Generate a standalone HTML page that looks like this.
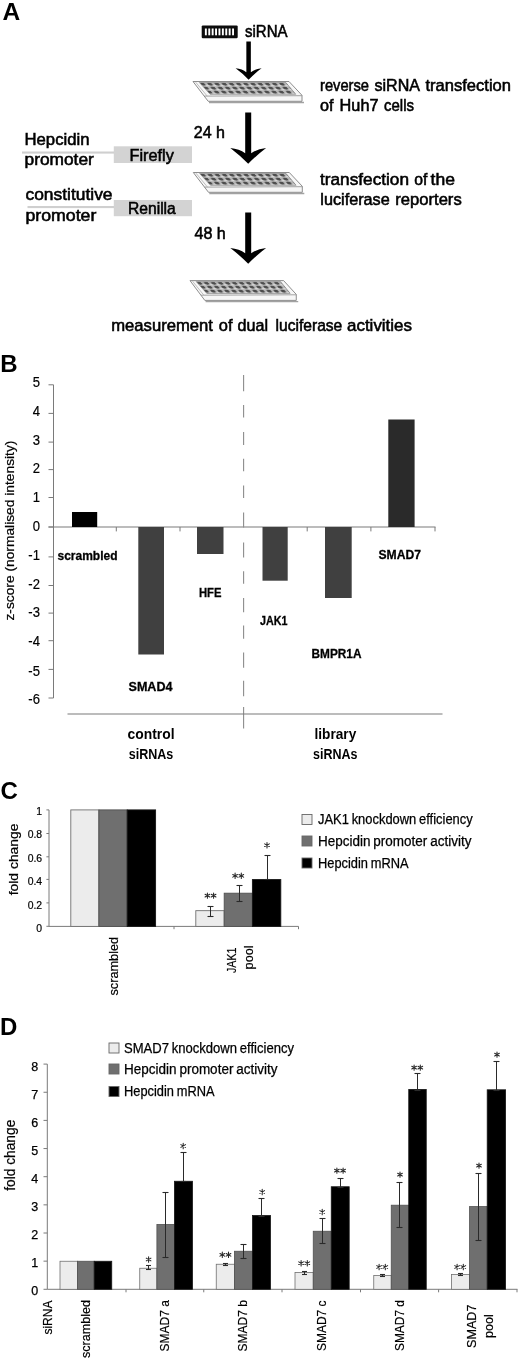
<!DOCTYPE html>
<html><head><meta charset="utf-8"><title>Figure</title>
<style>
html,body{margin:0;padding:0;background:#fff;}
body{width:520px;height:1360px;overflow:hidden;font-family:"Liberation Sans", sans-serif;}
svg{display:block;will-change:transform;filter:grayscale(1);}
svg text{font-family:"Liberation Sans", sans-serif;fill:#000;}
</style></head><body>
<svg width="520" height="1360" viewBox="0 0 520 1360">
<defs>
<pattern id="wells" x="5.2" y="1" width="7.2" height="3.93" patternUnits="userSpaceOnUse" patternTransform="skewX(40)">
<rect width="7.2" height="3.93" fill="#b4b4b4"/>
<ellipse cx="2.4" cy="1.7" rx="2.4" ry="1.35" fill="#4d4d4d"/>
<ellipse cx="6.1" cy="3.1" rx="1.5" ry="0.8" fill="#d6d6d6"/>
</pattern>
</defs>
<rect width="520" height="1360" fill="#fff"/>
<!-- Panel A -->
<text x="2.4" y="20" font-size="24.5" font-weight="bold">A</text>
<rect x="201.7" y="25.4" width="36" height="12.8" rx="1.2" fill="#0c0c0c"/>
<rect x="204.9" y="28.5" width="1.9" height="6.8" fill="#fff"/>
<rect x="208.3" y="28.5" width="1.9" height="6.8" fill="#fff"/>
<rect x="211.7" y="28.5" width="1.9" height="6.8" fill="#fff"/>
<rect x="215.1" y="28.5" width="1.9" height="6.8" fill="#fff"/>
<rect x="218.5" y="28.5" width="1.9" height="6.8" fill="#fff"/>
<rect x="221.9" y="28.5" width="1.9" height="6.8" fill="#fff"/>
<rect x="225.3" y="28.5" width="1.9" height="6.8" fill="#fff"/>
<rect x="228.7" y="28.5" width="1.9" height="6.8" fill="#fff"/>
<rect x="232.1" y="28.5" width="1.9" height="6.8" fill="#fff"/>
<text x="245" y="36.8" font-size="16.2" textLength="42.5" lengthAdjust="spacingAndGlyphs" stroke="#000" stroke-width="0.55">siRNA</text>
<path d="M246.35,41.4 L250.85,41.4 L250.85,72.2 Q254.97,68.96 261.6,68.3 Q254.5,73.45 248.6,79.8 Q242.7,73.45 235.6,68.3 Q242.23,68.96 246.35,72.2 Z" fill="#000"/>
<path d="M245.2,112.5 L251.2,112.5 L251.2,153.3 Q256.97,148.9 266.09999999999997,148 Q256.55,155.3 248.2,163.8 Q239.85,155.3 230.29999999999998,148 Q239.43,148.9 245.2,153.3 Z" fill="#000"/>
<path d="M245.2,212.5 L251.2,212.5 L251.2,253.3 Q256.97,248.9 266.09999999999997,248 Q256.55,255.3 248.2,263.8 Q239.85,255.3 230.29999999999998,248 Q239.43,248.9 245.2,253.3 Z" fill="#000"/>
<g transform="translate(193,81.5) scale(1,1)"><path d="M16,21 L111,21" stroke="#a2a2a2" stroke-width="1.3" fill="none"/><path d="M0,0 L96,0 L109,13.8 L109,19.8 L15.2,19.8 Z" fill="#f7f7f7" stroke="#808080" stroke-width="0.9" stroke-linejoin="round"/><path d="M11.2,14.6 L109,14.2" stroke="#8c8c8c" stroke-width="0.8" fill="none"/><path d="M2.6,0.6 L14.2,14.6" stroke="#a8a8a8" stroke-width="0.7" fill="none"/><path d="M6.3,1 L92.8,1 L102.8,12.8 L17.2,12.8 Z" fill="url(#wells)" stroke="#6a6a6a" stroke-width="0.5"/></g>
<g transform="translate(193.3,172.5) scale(1,1)"><path d="M16,21 L111,21" stroke="#a2a2a2" stroke-width="1.3" fill="none"/><path d="M0,0 L96,0 L109,13.8 L109,19.8 L15.2,19.8 Z" fill="#f7f7f7" stroke="#808080" stroke-width="0.9" stroke-linejoin="round"/><path d="M11.2,14.6 L109,14.2" stroke="#8c8c8c" stroke-width="0.8" fill="none"/><path d="M2.6,0.6 L14.2,14.6" stroke="#a8a8a8" stroke-width="0.7" fill="none"/><path d="M6.3,1 L92.8,1 L102.8,12.8 L17.2,12.8 Z" fill="url(#wells)" stroke="#6a6a6a" stroke-width="0.5"/></g>
<g transform="translate(190,280.6) scale(0.975,1)"><path d="M16,21 L111,21" stroke="#a2a2a2" stroke-width="1.3" fill="none"/><path d="M0,0 L96,0 L109,13.8 L109,19.8 L15.2,19.8 Z" fill="#f7f7f7" stroke="#808080" stroke-width="0.9" stroke-linejoin="round"/><path d="M11.2,14.6 L109,14.2" stroke="#8c8c8c" stroke-width="0.8" fill="none"/><path d="M2.6,0.6 L14.2,14.6" stroke="#a8a8a8" stroke-width="0.7" fill="none"/><path d="M6.3,1 L92.8,1 L102.8,12.8 L17.2,12.8 Z" fill="url(#wells)" stroke="#6a6a6a" stroke-width="0.5"/></g>
<text x="320" y="90.6" font-size="16.2" textLength="49" lengthAdjust="spacingAndGlyphs" stroke="#000" stroke-width="0.55">reverse</text>
<text x="374.5" y="90.6" font-size="16.2" textLength="45.5" lengthAdjust="spacingAndGlyphs" stroke="#000" stroke-width="0.55">siRNA</text>
<text x="425.5" y="90.6" font-size="16.2" textLength="85.5" lengthAdjust="spacingAndGlyphs" stroke="#000" stroke-width="0.55">transfection</text>
<text x="320" y="111.3" font-size="16.2" textLength="13.5" lengthAdjust="spacingAndGlyphs" stroke="#000" stroke-width="0.55">of</text>
<text x="339.6" y="111.3" font-size="16.2" textLength="38.9" lengthAdjust="spacingAndGlyphs" stroke="#000" stroke-width="0.55">Huh7</text>
<text x="384" y="111.3" font-size="16.2" textLength="30" lengthAdjust="spacingAndGlyphs" stroke="#000" stroke-width="0.55">cells</text>
<text x="193.8" y="137.5" font-size="16.2" textLength="31.2" lengthAdjust="spacingAndGlyphs" stroke="#000" stroke-width="0.55">24 h</text>
<text x="320" y="184.9" font-size="16.2" textLength="89" lengthAdjust="spacingAndGlyphs" stroke="#000" stroke-width="0.55">transfection</text>
<text x="414.2" y="184.9" font-size="16.2" textLength="13.1" lengthAdjust="spacingAndGlyphs" stroke="#000" stroke-width="0.55">of</text>
<text x="430.6" y="184.9" font-size="16.2" textLength="24.4" lengthAdjust="spacingAndGlyphs" stroke="#000" stroke-width="0.55">the</text>
<text x="320.3" y="205.4" font-size="16.2" textLength="69.4" lengthAdjust="spacingAndGlyphs" stroke="#000" stroke-width="0.55">luciferase</text>
<text x="395.3" y="205.4" font-size="16.2" textLength="66.4" lengthAdjust="spacingAndGlyphs" stroke="#000" stroke-width="0.55">reporters</text>
<text x="194.5" y="238.8" font-size="16.2" textLength="31.3" lengthAdjust="spacingAndGlyphs" stroke="#000" stroke-width="0.55">48 h</text>
<text x="111.2" y="331" font-size="16.2" textLength="101.8" lengthAdjust="spacingAndGlyphs" stroke="#000" stroke-width="0.55">measurement</text>
<text x="218.8" y="331" font-size="16.2" textLength="13.7" lengthAdjust="spacingAndGlyphs" stroke="#000" stroke-width="0.55">of</text>
<text x="237.5" y="331" font-size="16.2" textLength="30.5" lengthAdjust="spacingAndGlyphs" stroke="#000" stroke-width="0.55">dual</text>
<text x="275.5" y="331" font-size="16.2" textLength="66.8" lengthAdjust="spacingAndGlyphs" stroke="#000" stroke-width="0.55">luciferase</text>
<text x="347" y="331" font-size="16.2" textLength="65" lengthAdjust="spacingAndGlyphs" stroke="#000" stroke-width="0.55">activities</text>
<rect x="22" y="151.5" width="92" height="2.1" fill="#cfcfcf"/>
<rect x="113.8" y="146.3" width="78.2" height="16.7" fill="#d3d3d3"/>
<rect x="27.5" y="206" width="86.5" height="2.1" fill="#cfcfcf"/>
<rect x="113.8" y="200" width="78.2" height="16.2" fill="#d3d3d3"/>
<text x="24.5" y="145" font-size="16.2" textLength="65.0" lengthAdjust="spacingAndGlyphs" stroke="#000" stroke-width="0.55">Hepcidin</text>
<text x="24.5" y="165" font-size="16.2" textLength="69.3" lengthAdjust="spacingAndGlyphs" stroke="#000" stroke-width="0.55">promoter</text>
<text x="129.5" y="160.5" font-size="16.2" textLength="44.3" lengthAdjust="spacingAndGlyphs" stroke="#000" stroke-width="0.55">Firefly</text>
<text x="25.5" y="200" font-size="16.2" textLength="87.0" lengthAdjust="spacingAndGlyphs" stroke="#000" stroke-width="0.55">constitutive</text>
<text x="25.5" y="220.8" font-size="16.2" textLength="70.8" lengthAdjust="spacingAndGlyphs" stroke="#000" stroke-width="0.55">promoter</text>
<text x="128" y="214.3" font-size="16.2" textLength="47.8" lengthAdjust="spacingAndGlyphs" stroke="#000" stroke-width="0.55">Renilla</text>
<!-- Panel B -->
<text x="0.3" y="372" font-size="24" font-weight="bold">B</text>
<line x1="53.5" y1="384.8" x2="53.5" y2="698" stroke="#7a7a7a" stroke-width="1" />
<line x1="48.5" y1="698" x2="53.5" y2="698" stroke="#7a7a7a" stroke-width="1" />
<text transform="translate(39.9,703.95) scale(0.9,1)" font-size="14.5" text-anchor="end" stroke="#000" stroke-width="0.2">-6</text>
<line x1="48.5" y1="669.4" x2="53.5" y2="669.4" stroke="#7a7a7a" stroke-width="1" />
<text transform="translate(39.9,675.5) scale(0.9,1)" font-size="14.5" text-anchor="end" stroke="#000" stroke-width="0.2">-5</text>
<line x1="48.5" y1="640.7" x2="53.5" y2="640.7" stroke="#7a7a7a" stroke-width="1" />
<text transform="translate(39.9,646.3) scale(0.9,1)" font-size="14.5" text-anchor="end" stroke="#000" stroke-width="0.2">-4</text>
<line x1="48.5" y1="613.1" x2="53.5" y2="613.1" stroke="#7a7a7a" stroke-width="1" />
<text transform="translate(39.9,617.4) scale(0.9,1)" font-size="14.5" text-anchor="end" stroke="#000" stroke-width="0.2">-3</text>
<line x1="48.5" y1="585.5" x2="53.5" y2="585.5" stroke="#7a7a7a" stroke-width="1" />
<text transform="translate(39.9,588.8) scale(0.9,1)" font-size="14.5" text-anchor="end" stroke="#000" stroke-width="0.2">-2</text>
<line x1="48.5" y1="556.9" x2="53.5" y2="556.9" stroke="#7a7a7a" stroke-width="1" />
<text transform="translate(39.9,559.8) scale(0.9,1)" font-size="14.5" text-anchor="end" stroke="#000" stroke-width="0.2">-1</text>
<line x1="48.5" y1="527" x2="53.5" y2="527" stroke="#7a7a7a" stroke-width="1" />
<text transform="translate(39.9,530.5) scale(0.9,1)" font-size="14.5" text-anchor="end" stroke="#000" stroke-width="0.2">0</text>
<line x1="48.5" y1="497.5" x2="53.5" y2="497.5" stroke="#7a7a7a" stroke-width="1" />
<text transform="translate(39.9,501.9) scale(0.9,1)" font-size="14.5" text-anchor="end" stroke="#000" stroke-width="0.2">1</text>
<line x1="48.5" y1="469.6" x2="53.5" y2="469.6" stroke="#7a7a7a" stroke-width="1" />
<text transform="translate(39.9,473.3) scale(0.9,1)" font-size="14.5" text-anchor="end" stroke="#000" stroke-width="0.2">2</text>
<line x1="48.5" y1="442.1" x2="53.5" y2="442.1" stroke="#7a7a7a" stroke-width="1" />
<text transform="translate(39.9,444.5) scale(0.9,1)" font-size="14.5" text-anchor="end" stroke="#000" stroke-width="0.2">3</text>
<line x1="48.5" y1="413.4" x2="53.5" y2="413.4" stroke="#7a7a7a" stroke-width="1" />
<text transform="translate(39.9,415.8) scale(0.9,1)" font-size="14.5" text-anchor="end" stroke="#000" stroke-width="0.2">4</text>
<line x1="48.5" y1="384.8" x2="53.5" y2="384.8" stroke="#7a7a7a" stroke-width="1" />
<text transform="translate(39.9,386.8) scale(0.9,1)" font-size="14.5" text-anchor="end" stroke="#000" stroke-width="0.2">5</text>
<line x1="48.5" y1="527.0" x2="435.5" y2="527.0" stroke="#7a7a7a" stroke-width="1.1" />
<line x1="116.3" y1="527.0" x2="116.3" y2="531.4" stroke="#7a7a7a" stroke-width="1" />
<line x1="180" y1="527.0" x2="180" y2="531.4" stroke="#7a7a7a" stroke-width="1" />
<line x1="307.2" y1="527.0" x2="307.2" y2="531.4" stroke="#7a7a7a" stroke-width="1" />
<line x1="370.9" y1="527.0" x2="370.9" y2="531.4" stroke="#7a7a7a" stroke-width="1" />
<line x1="435" y1="527.0" x2="435" y2="531.4" stroke="#7a7a7a" stroke-width="1" />
<line x1="243.6" y1="375" x2="243.6" y2="391.2" stroke="#8c8c8c" stroke-width="1.1" />
<line x1="243.6" y1="405" x2="243.6" y2="417.6" stroke="#8c8c8c" stroke-width="1.1" />
<line x1="243.6" y1="431.9" x2="243.6" y2="445" stroke="#8c8c8c" stroke-width="1.1" />
<line x1="243.6" y1="458.7" x2="243.6" y2="471.3" stroke="#8c8c8c" stroke-width="1.1" />
<line x1="243.6" y1="485.6" x2="243.6" y2="498.1" stroke="#8c8c8c" stroke-width="1.1" />
<line x1="243.6" y1="512.5" x2="243.6" y2="527.5" stroke="#8c8c8c" stroke-width="1.1" />
<line x1="243.6" y1="542.5" x2="243.6" y2="557.5" stroke="#8c8c8c" stroke-width="1.1" />
<line x1="243.6" y1="571.2" x2="243.6" y2="583.8" stroke="#8c8c8c" stroke-width="1.1" />
<line x1="243.6" y1="598" x2="243.6" y2="612.2" stroke="#8c8c8c" stroke-width="1.1" />
<line x1="243.6" y1="625.6" x2="243.6" y2="638.8" stroke="#8c8c8c" stroke-width="1.1" />
<line x1="243.6" y1="652.5" x2="243.6" y2="667.8" stroke="#8c8c8c" stroke-width="1.1" />
<line x1="243.6" y1="680.8" x2="243.6" y2="696.2" stroke="#8c8c8c" stroke-width="1.1" />
<line x1="243.6" y1="707" x2="243.6" y2="728.5" stroke="#8c8c8c" stroke-width="1.1" />
<line x1="67.5" y1="714" x2="442.5" y2="714" stroke="#7a7a7a" stroke-width="1.2" />
<rect x="72" y="512" width="25.2" height="15.0" fill="#000"/>
<rect x="138.3" y="527.0" width="25.7" height="127.5" fill="#404040"/>
<rect x="197" y="527.0" width="26.5" height="27.0" fill="#404040"/>
<rect x="262.5" y="527.0" width="25.2" height="53.7" fill="#404040"/>
<rect x="325" y="527.0" width="26.7" height="71.0" fill="#404040"/>
<rect x="388.3" y="419.5" width="26.3" height="107.5" fill="#2a2a2a"/>
<text x="57.5" y="559.5" font-size="13" textLength="60.0" lengthAdjust="spacingAndGlyphs" font-weight="bold" stroke="#000" stroke-width="0.3">scrambled</text>
<text x="128.5" y="691" font-size="13" textLength="44.0" lengthAdjust="spacingAndGlyphs" font-weight="bold" stroke="#000" stroke-width="0.3">SMAD4</text>
<text x="199" y="597" font-size="13" textLength="22.5" lengthAdjust="spacingAndGlyphs" font-weight="bold" stroke="#000" stroke-width="0.3">HFE</text>
<text x="260" y="625" font-size="13" textLength="27.5" lengthAdjust="spacingAndGlyphs" font-weight="bold" stroke="#000" stroke-width="0.3">JAK1</text>
<text x="311.5" y="657.5" font-size="13" textLength="50.0" lengthAdjust="spacingAndGlyphs" font-weight="bold" stroke="#000" stroke-width="0.3">BMPR1A</text>
<text x="378.5" y="559" font-size="13" textLength="42.5" lengthAdjust="spacingAndGlyphs" font-weight="bold" stroke="#000" stroke-width="0.3">SMAD7</text>
<text x="127.5" y="739.4" font-size="15.5" textLength="47.0" lengthAdjust="spacingAndGlyphs" font-weight="bold">control</text>
<text x="128.7" y="758.7" font-size="15.5" textLength="44.6" lengthAdjust="spacingAndGlyphs" font-weight="bold">siRNAs</text>
<text x="314.5" y="739.4" font-size="15.5" textLength="41.8" lengthAdjust="spacingAndGlyphs" font-weight="bold">library</text>
<text x="313" y="758.7" font-size="15.5" textLength="44.5" lengthAdjust="spacingAndGlyphs" font-weight="bold">siRNAs</text>
<text transform="translate(14.3,620.6) rotate(-90)" font-size="13.2" textLength="180.0" lengthAdjust="spacingAndGlyphs" stroke="#000" stroke-width="0.2">z-score (normalised intensity)</text>
<!-- Panel C -->
<text x="0.4" y="798.5" font-size="24" font-weight="bold">C</text>
<line x1="49.0" y1="809.9" x2="49.0" y2="926.4" stroke="#7a7a7a" stroke-width="1" />
<line x1="46.4" y1="926.3" x2="49.0" y2="926.3" stroke="#7a7a7a" stroke-width="1" />
<text transform="translate(42.1,932.1) scale(0.93,1)" font-size="11.2" text-anchor="end" stroke="#000" stroke-width="0.2">0</text>
<line x1="46.4" y1="902.9" x2="49.0" y2="902.9" stroke="#7a7a7a" stroke-width="1" />
<text transform="translate(42.1,908.75) scale(0.93,1)" font-size="11.2" text-anchor="end" stroke="#000" stroke-width="0.2">0.2</text>
<line x1="46.4" y1="879.4" x2="49.0" y2="879.4" stroke="#7a7a7a" stroke-width="1" />
<text transform="translate(42.1,885.0) scale(0.93,1)" font-size="11.2" text-anchor="end" stroke="#000" stroke-width="0.2">0.4</text>
<line x1="46.4" y1="856.8" x2="49.0" y2="856.8" stroke="#7a7a7a" stroke-width="1" />
<text transform="translate(42.1,861.9) scale(0.93,1)" font-size="11.2" text-anchor="end" stroke="#000" stroke-width="0.2">0.6</text>
<line x1="46.4" y1="833.5" x2="49.0" y2="833.5" stroke="#7a7a7a" stroke-width="1" />
<text transform="translate(42.1,838.4) scale(0.93,1)" font-size="11.2" text-anchor="end" stroke="#000" stroke-width="0.2">0.8</text>
<line x1="46.4" y1="809.9" x2="49.0" y2="809.9" stroke="#7a7a7a" stroke-width="1" />
<text transform="translate(42.1,814.5) scale(0.93,1)" font-size="11.2" text-anchor="end" stroke="#000" stroke-width="0.2">1</text>
<line x1="49.0" y1="926.4" x2="298.5" y2="926.4" stroke="#7a7a7a" stroke-width="1" />
<line x1="174" y1="926.4" x2="174" y2="929.2" stroke="#7a7a7a" stroke-width="1" />
<line x1="298.5" y1="926.4" x2="298.5" y2="929.2" stroke="#7a7a7a" stroke-width="1" />
<rect x="70.8" y="809.9" width="28.1" height="116.5" fill="#ececec" stroke="#707070" stroke-width="0.9"/>
<rect x="98.9" y="809.9" width="28.3" height="116.5" fill="#6f6f6f" stroke="#505050" stroke-width="0.9"/>
<rect x="127.2" y="809.9" width="28.4" height="116.5" fill="#000" stroke="#161616" stroke-width="0.9"/>
<rect x="195.8" y="910.67" width="28.4" height="15.73" fill="#ececec" stroke="#707070" stroke-width="0.9"/>
<rect x="224.2" y="893.2" width="28.2" height="33.2" fill="#6f6f6f" stroke="#505050" stroke-width="0.9"/>
<rect x="252.4" y="879.57" width="28.4" height="46.83" fill="#000" stroke="#161616" stroke-width="0.9"/>
<line x1="210.5" y1="906.5" x2="210.5" y2="916.5" stroke="#2a2a2a" stroke-width="1" />
<line x1="207.5" y1="906.5" x2="213.5" y2="906.5" stroke="#2a2a2a" stroke-width="1.1" />
<line x1="207.5" y1="916.5" x2="213.5" y2="916.5" stroke="#2a2a2a" stroke-width="1.1" />
<line x1="239.5" y1="885.5" x2="239.5" y2="901.5" stroke="#2a2a2a" stroke-width="1" />
<line x1="236.5" y1="885.5" x2="242.5" y2="885.5" stroke="#2a2a2a" stroke-width="1.1" />
<line x1="236.5" y1="901.5" x2="242.5" y2="901.5" stroke="#2a2a2a" stroke-width="1.1" />
<line x1="267.5" y1="855.5" x2="267.5" y2="879.5" stroke="#2a2a2a" stroke-width="1" />
<line x1="264.5" y1="855.5" x2="270.5" y2="855.5" stroke="#2a2a2a" stroke-width="1.1" />
<line x1="264.5" y1="879.5" x2="270.5" y2="879.5" stroke="#2a2a2a" stroke-width="1.1" />
<path d="M207.4,892.9 L207.4,898.3 M205.06,894.25 L209.74,896.95 M209.74,894.25 L205.06,896.95 " stroke="#262626" stroke-width="1.05" fill="none" stroke-linecap="round"/>
<path d="M213.6,892.9 L213.6,898.3 M211.26,894.25 L215.94,896.95 M215.94,894.25 L211.26,896.95 " stroke="#262626" stroke-width="1.05" fill="none" stroke-linecap="round"/>
<path d="M235.1,873.1 L235.1,878.5 M232.76,874.45 L237.44,877.15 M237.44,874.45 L232.76,877.15 " stroke="#262626" stroke-width="1.05" fill="none" stroke-linecap="round"/>
<path d="M241.3,873.1 L241.3,878.5 M238.96,874.45 L243.64,877.15 M243.64,874.45 L238.96,877.15 " stroke="#262626" stroke-width="1.05" fill="none" stroke-linecap="round"/>
<path d="M267.0,842.5 L267.0,847.9 M264.66,843.85 L269.34,846.55 M269.34,843.85 L264.66,846.55 " stroke="#262626" stroke-width="1.05" fill="none" stroke-linecap="round"/>
<text transform="translate(117.8,995.6) rotate(-90)" font-size="13.7" textLength="58.8" lengthAdjust="spacingAndGlyphs" stroke="#000" stroke-width="0.2">scrambled</text>
<text transform="translate(236.2,973) rotate(-90)" font-size="13.5" textLength="25.4" lengthAdjust="spacingAndGlyphs" stroke="#000" stroke-width="0.2">JAK1</text>
<text transform="translate(253,969.4) rotate(-90)" font-size="13.5" textLength="24.0" lengthAdjust="spacingAndGlyphs" stroke="#000" stroke-width="0.2">pool</text>
<text transform="translate(18,895.3) rotate(-90)" font-size="13.6" textLength="71.8" lengthAdjust="spacingAndGlyphs" stroke="#000" stroke-width="0.2">fold change</text>
<rect x="302" y="814.5" width="10" height="10.0" fill="#ececec" stroke="#666" stroke-width="0.9"/>
<text x="318" y="824.2" font-size="13.8" textLength="154.7" lengthAdjust="spacingAndGlyphs" stroke="#000" stroke-width="0.25" word-spacing="-0.9">JAK1 knockdown efficiency</text>
<rect x="302" y="836" width="10" height="10" fill="#6f6f6f" stroke="#666" stroke-width="0.9"/>
<text x="318" y="845.7" font-size="13.8" textLength="153.4" lengthAdjust="spacingAndGlyphs" stroke="#000" stroke-width="0.25" word-spacing="-0.9">Hepcidin promoter activity</text>
<rect x="302" y="858" width="10" height="10" fill="#000" stroke="#666" stroke-width="0.9"/>
<text x="318" y="867.7" font-size="13.8" textLength="90.6" lengthAdjust="spacingAndGlyphs" stroke="#000" stroke-width="0.25" word-spacing="-0.9">Hepcidin mRNA</text>
<!-- Panel D -->
<text x="0.1" y="1035.2" font-size="24" font-weight="bold">D</text>
<line x1="47.3" y1="1064.1" x2="47.3" y2="1289.3" stroke="#7a7a7a" stroke-width="1" />
<line x1="43.5" y1="1289.3" x2="47.3" y2="1289.3" stroke="#7a7a7a" stroke-width="1" />
<text x="38.1" y="1295.29" font-size="12.5" text-anchor="end" stroke="#000" stroke-width="0.25">0</text>
<line x1="43.5" y1="1261.15" x2="47.3" y2="1261.15" stroke="#7a7a7a" stroke-width="1" />
<text x="38.1" y="1267.26" font-size="12.5" text-anchor="end" stroke="#000" stroke-width="0.25">1</text>
<line x1="43.5" y1="1233.0" x2="47.3" y2="1233.0" stroke="#7a7a7a" stroke-width="1" />
<text x="38.1" y="1239.23" font-size="12.5" text-anchor="end" stroke="#000" stroke-width="0.25">2</text>
<line x1="43.5" y1="1204.85" x2="47.3" y2="1204.85" stroke="#7a7a7a" stroke-width="1" />
<text x="38.1" y="1211.2" font-size="12.5" text-anchor="end" stroke="#000" stroke-width="0.25">3</text>
<line x1="43.5" y1="1176.7" x2="47.3" y2="1176.7" stroke="#7a7a7a" stroke-width="1" />
<text x="38.1" y="1183.17" font-size="12.5" text-anchor="end" stroke="#000" stroke-width="0.25">4</text>
<line x1="43.5" y1="1148.55" x2="47.3" y2="1148.55" stroke="#7a7a7a" stroke-width="1" />
<text x="38.1" y="1155.14" font-size="12.5" text-anchor="end" stroke="#000" stroke-width="0.25">5</text>
<line x1="43.5" y1="1120.4" x2="47.3" y2="1120.4" stroke="#7a7a7a" stroke-width="1" />
<text x="38.1" y="1127.11" font-size="12.5" text-anchor="end" stroke="#000" stroke-width="0.25">6</text>
<line x1="43.5" y1="1092.25" x2="47.3" y2="1092.25" stroke="#7a7a7a" stroke-width="1" />
<text x="38.1" y="1099.08" font-size="12.5" text-anchor="end" stroke="#000" stroke-width="0.25">7</text>
<line x1="43.5" y1="1064.1" x2="47.3" y2="1064.1" stroke="#7a7a7a" stroke-width="1" />
<text x="38.1" y="1071.05" font-size="12.5" text-anchor="end" stroke="#000" stroke-width="0.25">8</text>
<line x1="47.3" y1="1289.3" x2="517.5" y2="1289.3" stroke="#7a7a7a" stroke-width="1" />
<line x1="126" y1="1289.3" x2="126" y2="1292.3" stroke="#7a7a7a" stroke-width="1" />
<line x1="203.75" y1="1289.3" x2="203.75" y2="1292.3" stroke="#7a7a7a" stroke-width="1" />
<line x1="282" y1="1289.3" x2="282" y2="1292.3" stroke="#7a7a7a" stroke-width="1" />
<line x1="360.5" y1="1289.3" x2="360.5" y2="1292.3" stroke="#7a7a7a" stroke-width="1" />
<line x1="438.6" y1="1289.3" x2="438.6" y2="1292.3" stroke="#7a7a7a" stroke-width="1" />
<line x1="517" y1="1289.3" x2="517" y2="1292.3" stroke="#7a7a7a" stroke-width="1" />
<rect x="60" y="1261.25" width="17.5" height="28.05" fill="#ececec" stroke="#707070" stroke-width="0.8"/>
<rect x="77.5" y="1261.25" width="16.7" height="28.05" fill="#6f6f6f" stroke="#505050" stroke-width="0.8"/>
<rect x="94.2" y="1261.25" width="17.55" height="28.05" fill="#000" stroke="#161616" stroke-width="0.8"/>
<rect x="139.75" y="1268.25" width="17.15" height="21.05" fill="#ececec" stroke="#707070" stroke-width="0.8"/>
<rect x="156.9" y="1224.5" width="17.5" height="64.8" fill="#6f6f6f" stroke="#505050" stroke-width="0.8"/>
<rect x="174.4" y="1181.25" width="18.1" height="108.05" fill="#000" stroke="#161616" stroke-width="0.8"/>
<rect x="216.25" y="1264.25" width="18.15" height="25.05" fill="#ececec" stroke="#707070" stroke-width="0.8"/>
<rect x="234.4" y="1251.25" width="18.1" height="38.05" fill="#6f6f6f" stroke="#505050" stroke-width="0.8"/>
<rect x="252.5" y="1215.5" width="18.0" height="73.8" fill="#000" stroke="#161616" stroke-width="0.8"/>
<rect x="295" y="1272.5" width="18.25" height="16.8" fill="#ececec" stroke="#707070" stroke-width="0.8"/>
<rect x="313.25" y="1231.25" width="18.0" height="58.05" fill="#6f6f6f" stroke="#505050" stroke-width="0.8"/>
<rect x="331.25" y="1186.75" width="17.95" height="102.55" fill="#000" stroke="#161616" stroke-width="0.8"/>
<rect x="373.75" y="1275.4" width="17.5" height="13.9" fill="#ececec" stroke="#707070" stroke-width="0.8"/>
<rect x="391.25" y="1205.2" width="17.5" height="84.1" fill="#6f6f6f" stroke="#505050" stroke-width="0.8"/>
<rect x="408.75" y="1089.4" width="17.5" height="199.9" fill="#000" stroke="#161616" stroke-width="0.8"/>
<rect x="451.5" y="1274.5" width="18.1" height="14.8" fill="#ececec" stroke="#707070" stroke-width="0.8"/>
<rect x="469.6" y="1206.6" width="17.6" height="82.7" fill="#6f6f6f" stroke="#505050" stroke-width="0.8"/>
<rect x="487.2" y="1089.8" width="18.4" height="199.5" fill="#000" stroke="#161616" stroke-width="0.8"/>
<line x1="148.5" y1="1265.5" x2="148.5" y2="1269.5" stroke="#2a2a2a" stroke-width="1" />
<line x1="146.0" y1="1265.5" x2="151.0" y2="1265.5" stroke="#2a2a2a" stroke-width="1.1" />
<line x1="146.0" y1="1269.5" x2="151.0" y2="1269.5" stroke="#2a2a2a" stroke-width="1.1" />
<line x1="165.5" y1="1192.5" x2="165.5" y2="1257.5" stroke="#2a2a2a" stroke-width="1" />
<line x1="162.5" y1="1192.5" x2="168.5" y2="1192.5" stroke="#2a2a2a" stroke-width="1.1" />
<line x1="162.5" y1="1257.5" x2="168.5" y2="1257.5" stroke="#2a2a2a" stroke-width="1.1" />
<line x1="183.5" y1="1152.5" x2="183.5" y2="1181.5" stroke="#2a2a2a" stroke-width="1" />
<line x1="180.5" y1="1152.5" x2="186.5" y2="1152.5" stroke="#2a2a2a" stroke-width="1.1" />
<line x1="180.5" y1="1181.5" x2="186.5" y2="1181.5" stroke="#2a2a2a" stroke-width="1.1" />
<line x1="225.5" y1="1263.5" x2="225.5" y2="1265.5" stroke="#2a2a2a" stroke-width="1" />
<line x1="223.0" y1="1263.5" x2="228.0" y2="1263.5" stroke="#2a2a2a" stroke-width="1.1" />
<line x1="223.0" y1="1265.5" x2="228.0" y2="1265.5" stroke="#2a2a2a" stroke-width="1.1" />
<line x1="243.5" y1="1244.5" x2="243.5" y2="1258.5" stroke="#2a2a2a" stroke-width="1" />
<line x1="240.5" y1="1244.5" x2="246.5" y2="1244.5" stroke="#2a2a2a" stroke-width="1.1" />
<line x1="240.5" y1="1258.5" x2="246.5" y2="1258.5" stroke="#2a2a2a" stroke-width="1.1" />
<line x1="261.5" y1="1198.5" x2="261.5" y2="1216.5" stroke="#2a2a2a" stroke-width="1" />
<line x1="258.5" y1="1198.5" x2="264.5" y2="1198.5" stroke="#2a2a2a" stroke-width="1.1" />
<line x1="258.5" y1="1216.5" x2="264.5" y2="1216.5" stroke="#2a2a2a" stroke-width="1.1" />
<line x1="304.5" y1="1271.5" x2="304.5" y2="1274.5" stroke="#2a2a2a" stroke-width="1" />
<line x1="302.0" y1="1271.5" x2="307.0" y2="1271.5" stroke="#2a2a2a" stroke-width="1.1" />
<line x1="302.0" y1="1274.5" x2="307.0" y2="1274.5" stroke="#2a2a2a" stroke-width="1.1" />
<line x1="322.5" y1="1218.5" x2="322.5" y2="1243.5" stroke="#2a2a2a" stroke-width="1" />
<line x1="319.5" y1="1218.5" x2="325.5" y2="1218.5" stroke="#2a2a2a" stroke-width="1.1" />
<line x1="319.5" y1="1243.5" x2="325.5" y2="1243.5" stroke="#2a2a2a" stroke-width="1.1" />
<line x1="340.5" y1="1178.5" x2="340.5" y2="1187.5" stroke="#2a2a2a" stroke-width="1" />
<line x1="337.5" y1="1178.5" x2="343.5" y2="1178.5" stroke="#2a2a2a" stroke-width="1.1" />
<line x1="337.5" y1="1187.5" x2="343.5" y2="1187.5" stroke="#2a2a2a" stroke-width="1.1" />
<line x1="382.5" y1="1274.5" x2="382.5" y2="1276.5" stroke="#2a2a2a" stroke-width="1" />
<line x1="380.0" y1="1274.5" x2="385.0" y2="1274.5" stroke="#2a2a2a" stroke-width="1.1" />
<line x1="380.0" y1="1276.5" x2="385.0" y2="1276.5" stroke="#2a2a2a" stroke-width="1.1" />
<line x1="399.5" y1="1182.5" x2="399.5" y2="1227.5" stroke="#2a2a2a" stroke-width="1" />
<line x1="396.5" y1="1182.5" x2="402.5" y2="1182.5" stroke="#2a2a2a" stroke-width="1.1" />
<line x1="396.5" y1="1227.5" x2="402.5" y2="1227.5" stroke="#2a2a2a" stroke-width="1.1" />
<line x1="417.5" y1="1073.5" x2="417.5" y2="1090.5" stroke="#2a2a2a" stroke-width="1" />
<line x1="414.5" y1="1073.5" x2="420.5" y2="1073.5" stroke="#2a2a2a" stroke-width="1.1" />
<line x1="414.5" y1="1090.5" x2="420.5" y2="1090.5" stroke="#2a2a2a" stroke-width="1.1" />
<line x1="460.5" y1="1273.5" x2="460.5" y2="1275.5" stroke="#2a2a2a" stroke-width="1" />
<line x1="458.0" y1="1273.5" x2="463.0" y2="1273.5" stroke="#2a2a2a" stroke-width="1.1" />
<line x1="458.0" y1="1275.5" x2="463.0" y2="1275.5" stroke="#2a2a2a" stroke-width="1.1" />
<line x1="478.5" y1="1173.5" x2="478.5" y2="1240.5" stroke="#2a2a2a" stroke-width="1" />
<line x1="475.5" y1="1173.5" x2="481.5" y2="1173.5" stroke="#2a2a2a" stroke-width="1.1" />
<line x1="475.5" y1="1240.5" x2="481.5" y2="1240.5" stroke="#2a2a2a" stroke-width="1.1" />
<line x1="496.5" y1="1061.5" x2="496.5" y2="1090.5" stroke="#2a2a2a" stroke-width="1" />
<line x1="493.5" y1="1061.5" x2="499.5" y2="1061.5" stroke="#2a2a2a" stroke-width="1.1" />
<line x1="493.5" y1="1090.5" x2="499.5" y2="1090.5" stroke="#2a2a2a" stroke-width="1.1" />
<path d="M148.6,1256.8 L148.6,1262.2 M146.26,1258.15 L150.94,1260.85 M150.94,1258.15 L146.26,1260.85 " stroke="#262626" stroke-width="1.05" fill="none" stroke-linecap="round"/>
<path d="M183.2,1143.3 L183.2,1148.7 M180.86,1144.65 L185.54,1147.35 M185.54,1144.65 L180.86,1147.35 " stroke="#262626" stroke-width="1.05" fill="none" stroke-linecap="round"/>
<path d="M222.3,1252.1 L222.3,1257.5 M219.96,1253.45 L224.64,1256.15 M224.64,1253.45 L219.96,1256.15 " stroke="#262626" stroke-width="1.05" fill="none" stroke-linecap="round"/>
<path d="M228.5,1252.1 L228.5,1257.5 M226.16,1253.45 L230.84,1256.15 M230.84,1253.45 L226.16,1256.15 " stroke="#262626" stroke-width="1.05" fill="none" stroke-linecap="round"/>
<path d="M262.2,1189.3 L262.2,1194.7 M259.86,1190.65 L264.54,1193.35 M264.54,1190.65 L259.86,1193.35 " stroke="#262626" stroke-width="1.05" fill="none" stroke-linecap="round"/>
<path d="M301.1,1260.5 L301.1,1265.9 M298.76,1261.85 L303.44,1264.55 M303.44,1261.85 L298.76,1264.55 " stroke="#262626" stroke-width="1.05" fill="none" stroke-linecap="round"/>
<path d="M307.3,1260.5 L307.3,1265.9 M304.96,1261.85 L309.64,1264.55 M309.64,1261.85 L304.96,1264.55 " stroke="#262626" stroke-width="1.05" fill="none" stroke-linecap="round"/>
<path d="M322.2,1209.3 L322.2,1214.7 M319.86,1210.65 L324.54,1213.35 M324.54,1210.65 L319.86,1213.35 " stroke="#262626" stroke-width="1.05" fill="none" stroke-linecap="round"/>
<path d="M336.9,1167.9 L336.9,1173.3 M334.56,1169.25 L339.24,1171.95 M339.24,1169.25 L334.56,1171.95 " stroke="#262626" stroke-width="1.05" fill="none" stroke-linecap="round"/>
<path d="M343.1,1167.9 L343.1,1173.3 M340.76,1169.25 L345.44,1171.95 M345.44,1169.25 L340.76,1171.95 " stroke="#262626" stroke-width="1.05" fill="none" stroke-linecap="round"/>
<path d="M379.1,1264.3 L379.1,1269.7 M376.76,1265.65 L381.44,1268.35 M381.44,1265.65 L376.76,1268.35 " stroke="#262626" stroke-width="1.05" fill="none" stroke-linecap="round"/>
<path d="M385.3,1264.3 L385.3,1269.7 M382.96,1265.65 L387.64,1268.35 M387.64,1265.65 L382.96,1268.35 " stroke="#262626" stroke-width="1.05" fill="none" stroke-linecap="round"/>
<path d="M400.0,1171.9 L400.0,1177.3 M397.66,1173.25 L402.34,1175.95 M402.34,1173.25 L397.66,1175.95 " stroke="#262626" stroke-width="1.05" fill="none" stroke-linecap="round"/>
<path d="M414.1,1064.9 L414.1,1070.3 M411.76,1066.25 L416.44,1068.95 M416.44,1066.25 L411.76,1068.95 " stroke="#262626" stroke-width="1.05" fill="none" stroke-linecap="round"/>
<path d="M420.3,1064.9 L420.3,1070.3 M417.96,1066.25 L422.64,1068.95 M422.64,1066.25 L417.96,1068.95 " stroke="#262626" stroke-width="1.05" fill="none" stroke-linecap="round"/>
<path d="M457.1,1264.3 L457.1,1269.7 M454.76,1265.65 L459.44,1268.35 M459.44,1265.65 L454.76,1268.35 " stroke="#262626" stroke-width="1.05" fill="none" stroke-linecap="round"/>
<path d="M463.3,1264.3 L463.3,1269.7 M460.96,1265.65 L465.64,1268.35 M465.64,1265.65 L460.96,1268.35 " stroke="#262626" stroke-width="1.05" fill="none" stroke-linecap="round"/>
<path d="M479.0,1162.9 L479.0,1168.3 M476.66,1164.25 L481.34,1166.95 M481.34,1164.25 L476.66,1166.95 " stroke="#262626" stroke-width="1.05" fill="none" stroke-linecap="round"/>
<path d="M497.0,1051.9 L497.0,1057.3 M494.66,1053.25 L499.34,1055.95 M499.34,1053.25 L494.66,1055.95 " stroke="#262626" stroke-width="1.05" fill="none" stroke-linecap="round"/>
<text transform="translate(52.4,1334.6) rotate(-90)" font-size="13" textLength="34.0" lengthAdjust="spacingAndGlyphs" stroke="#000" stroke-width="0.2">siRNA</text>
<text transform="translate(89.8,1358) rotate(-90)" font-size="13" textLength="58" lengthAdjust="spacingAndGlyphs" stroke="#000" stroke-width="0.2">scrambled</text>
<text transform="translate(169.2,1351.4) rotate(-90)" font-size="13" textLength="51.4" lengthAdjust="spacingAndGlyphs" stroke="#000" stroke-width="0.2">SMAD7 a</text>
<text transform="translate(246.8,1351.4) rotate(-90)" font-size="13" textLength="51.4" lengthAdjust="spacingAndGlyphs" stroke="#000" stroke-width="0.2">SMAD7 b</text>
<text transform="translate(326.2,1351) rotate(-90)" font-size="13" textLength="50.5" lengthAdjust="spacingAndGlyphs" stroke="#000" stroke-width="0.2">SMAD7 c</text>
<text transform="translate(403.6,1351) rotate(-90)" font-size="13" textLength="51" lengthAdjust="spacingAndGlyphs" stroke="#000" stroke-width="0.2">SMAD7 d</text>
<text transform="translate(476,1348) rotate(-90)" font-size="13" textLength="43.4" lengthAdjust="spacingAndGlyphs" stroke="#000" stroke-width="0.2">SMAD7</text>
<text transform="translate(493,1338) rotate(-90)" font-size="13" textLength="23.7" lengthAdjust="spacingAndGlyphs" stroke="#000" stroke-width="0.2">pool</text>
<text transform="translate(14.6,1190.8) rotate(-90)" font-size="13.8" textLength="71.1" lengthAdjust="spacingAndGlyphs" stroke="#000" stroke-width="0.2">fold change</text>
<rect x="109" y="1043" width="10" height="10" fill="#ececec" stroke="#666" stroke-width="0.9"/>
<text x="124" y="1052.7" font-size="13.8" textLength="170" lengthAdjust="spacingAndGlyphs" stroke="#000" stroke-width="0.25" word-spacing="-0.9">SMAD7 knockdown efficiency</text>
<rect x="109" y="1064" width="10" height="10" fill="#6f6f6f" stroke="#666" stroke-width="0.9"/>
<text x="124" y="1073.7" font-size="13.8" textLength="153.5" lengthAdjust="spacingAndGlyphs" stroke="#000" stroke-width="0.25" word-spacing="-0.9">Hepcidin promoter activity</text>
<rect x="109" y="1086.5" width="10" height="10.0" fill="#000" stroke="#666" stroke-width="0.9"/>
<text x="124" y="1096.2" font-size="13.8" textLength="90.5" lengthAdjust="spacingAndGlyphs" stroke="#000" stroke-width="0.25" word-spacing="-0.9">Hepcidin mRNA</text>
</svg>
</body></html>
